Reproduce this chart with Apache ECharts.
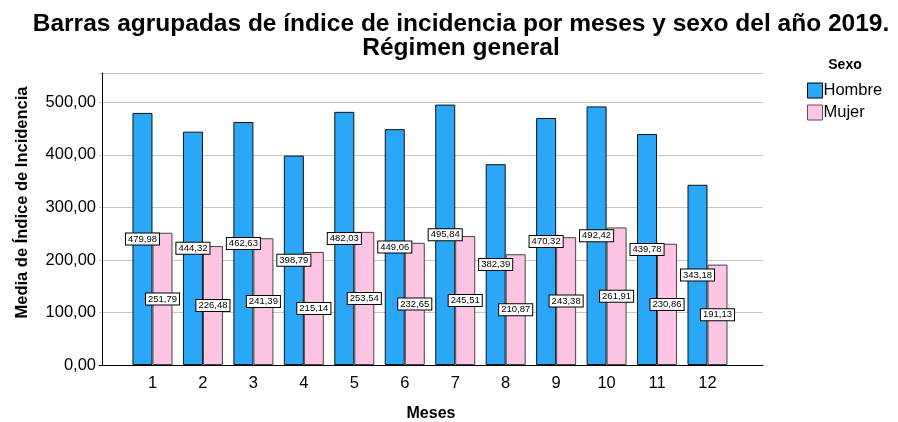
<!DOCTYPE html>
<html>
<head>
<meta charset="utf-8">
<script src="https://cdn.jsdelivr.net/npm/echarts@6/dist/echarts.min.js"></script>
<style>
  html, body { margin: 0; padding: 0; background: #fff; }
  #chart { width: 898px; height: 422px; }
</style>
</head>
<body>
<div id="chart"></div>
<script>
const months = [1, 2, 3, 4, 5, 6, 7, 8, 9, 10, 11, 12];
const hombre = [479.98, 444.32, 462.63, 398.79, 482.03, 449.06, 495.84, 382.39, 470.32, 492.42, 439.78, 343.18];
const mujer = [251.79, 226.48, 241.39, 215.14, 253.54, 232.65, 245.51, 210.87, 243.38, 261.91, 230.86, 191.13];
const yTicks = [0, 100, 200, 300, 400, 500];

const FONT = "'Liberation Sans', Arial, sans-serif";
const BLUE = "#2aa8f7";
const PINK = "#fdc4e3";

// 479.98 -> "479,98"
const fmt = v => v.toFixed(2).replace(".", ",");

const barLabel = {
  show: true,
  position: "inside",
  fontFamily: FONT,
  fontSize: 9.5,
  color: "#000",
  backgroundColor: "#fff",
  borderColor: "#000",
  borderWidth: 1,
  padding: [1, 2, 0, 2],
  formatter: p => fmt(p.value[1])
};

const chart = echarts.init(document.getElementById("chart"));
chart.setOption({
  animation: false,
  textStyle: { fontFamily: FONT },
  title: [
    {
      text: "Barras agrupadas de índice de incidencia por meses y sexo del año 2019.\nRégimen general",
      left: 461,
      textAlign: "center",
      top: 12,
      padding: 0,
      textStyle: { fontFamily: FONT, fontSize: 24.5, fontWeight: "bold", color: "#000", lineHeight: 24 }
    },
    {
      text: "Sexo",
      left: 845,
      textAlign: "center",
      top: 58,
      padding: 0,
      textStyle: { fontFamily: FONT, fontSize: 14, fontWeight: "bold", color: "#000" }
    }
  ],
  legend: {
    orient: "vertical",
    left: 807,
    top: 82,
    padding: 0,
    itemWidth: 15,
    itemHeight: 15,
    itemGap: 5,
    selectedMode: false,
    textStyle: { fontFamily: FONT, fontSize: 16.5, color: "#000", padding: [0, 0, 0, -4] },
    data: [
      { name: "Hombre", icon: "rect", itemStyle: { color: BLUE, borderColor: "#000", borderWidth: 1 } },
      { name: "Mujer", icon: "rect", itemStyle: { color: PINK, borderColor: "#555", borderWidth: 1 } }
    ]
  },
  grid: { left: 99, right: 135, top: 73, bottom: 57, outerBoundsMode: "none" },
  xAxis: {
    type: "value",
    min: -0.06,
    max: 13.1,
    name: "Meses",
    nameLocation: "middle",
    nameGap: 41,
    nameTextStyle: { fontFamily: FONT, fontSize: 16, fontWeight: "bold", color: "#000" },
    axisLine: { show: true, lineStyle: { color: "#000", width: 1 } },
    axisTick: { show: false },
    splitLine: { show: false },
    axisLabel: {
      customValues: months,
      fontFamily: FONT,
      fontSize: 16.5,
      color: "#000",
      margin: 10
    }
  },
  yAxis: {
    type: "value",
    min: 0,
    max: 556,
    interval: 100,
    name: "Media de Índice de Incidencia",
    nameLocation: "middle",
    nameGap: 68,
    nameTextStyle: { fontFamily: FONT, fontSize: 16.5, fontWeight: "bold", color: "#000", padding: [0, 0, 0, 33] },
    axisLine: { show: true, lineStyle: { color: "#000", width: 1 } },
    axisTick: { show: false },
    splitLine: { show: true, lineStyle: { color: "#c8c8c8", width: 1 } },
    axisLabel: {
      customValues: yTicks,
      fontFamily: FONT,
      fontSize: 16.5,
      color: "#000",
      margin: 3,
      formatter: v => fmt(v)
    }
  },
  series: [
    {
      name: "Hombre",
      type: "bar",
      barWidth: 20,
      barGap: "0%",
      data: months.map((m, i) => [m, hombre[i]]),
      itemStyle: { color: BLUE, borderColor: "#111", borderWidth: 1 },
      label: barLabel
    },
    {
      name: "Mujer",
      type: "bar",
      barWidth: 20,
      barGap: "0%",
      data: months.map((m, i) => [m, mujer[i]]),
      itemStyle: { color: PINK, borderColor: "#444", borderWidth: 1 },
      label: barLabel
    }
  ]
});
</script>
</body>
</html>
